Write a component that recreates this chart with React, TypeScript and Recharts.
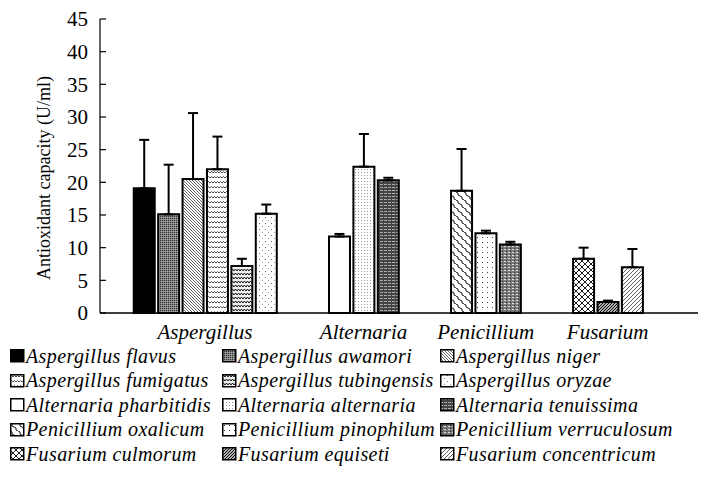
import { BarChart, Bar, XAxis, YAxis, ErrorBar, Cell, Label } from "recharts";

const FONT = "'Liberation Serif', 'Times New Roman', serif";

const genera = ["Aspergillus", "Alternaria", "Penicillium", "Fusarium"];
const genusSlots = [2.5, 9, 14, 19];

const strains = [
  "Aspergillus flavus",
  "Aspergillus awamori",
  "Aspergillus niger",
  "Aspergillus fumigatus",
  "Aspergillus tubingensis",
  "Aspergillus oryzae",
  "Alternaria pharbitidis",
  "Alternaria alternaria",
  "Alternaria tenuissima",
  "Penicillium oxalicum",
  "Penicillium pinophilum",
  "Penicillium verruculosum",
  "Fusarium culmorum",
  "Fusarium equiseti",
  "Fusarium concentricum",
];
// slot of each strain on the x axis (two empty slots between genera)
const slots = [0, 1, 2, 3, 4, 5, 8, 9, 10, 13, 14, 15, 18, 19, 20];
const means = [19.1, 15.1, 20.5, 22.0, 7.2, 15.2, 11.7, 22.4, 20.3, 18.7, 12.2, 10.5, 8.3, 1.7, 7.0];
const sds = [7.4, 7.6, 10.1, 5.0, 1.1, 1.4, 0.4, 5.0, 0.4, 6.4, 0.4, 0.4, 1.7, 0.2, 2.8];
const yTicks = [0, 5, 10, 15, 20, 25, 30, 35, 40, 45];

const rows = strains.map((name, i) => ({
  name,
  slot: slots[i],
  mean: means[i],
  err: [0, sds[i]],
}));

function Patterns() {
  return (
    <svg width={0} height={0} style={{ position: "absolute" }}>
      <defs>
        <pattern id="pat0" width="4" height="4" patternUnits="userSpaceOnUse">
          <rect width="4" height="4" fill="#000" />
        </pattern>
        <pattern id="pat1" width="2" height="2" patternUnits="userSpaceOnUse">
          <rect width="2" height="2" fill="#808080" />
          <rect width="1" height="1" fill="#333" />
          <rect x="1" y="1" width="1" height="1" fill="#aaa" />
        </pattern>
        <pattern id="pat2" width="3" height="3" patternUnits="userSpaceOnUse">
          <rect width="3" height="3" fill="#fff" />
          <path d="M0,0 L3,3 M-1,2 L1,4 M2,-1 L4,1" stroke="#222" strokeWidth="0.7" />
        </pattern>
        <pattern id="pat3" width="6" height="5" patternUnits="userSpaceOnUse">
          <rect width="6" height="5" fill="#fff" />
          <path d="M0,3 L1.5,1.5 L3,3 L4.5,1.5 L6,3" stroke="#000" strokeWidth="0.7" fill="none" />
        </pattern>
        <pattern id="pat4" width="6" height="4" patternUnits="userSpaceOnUse">
          <rect width="6" height="4" fill="#eee" />
          <path d="M0,3 L1.5,1 L3,3 L4.5,1 L6,3" stroke="#000" strokeWidth="0.9" fill="none" />
        </pattern>
        <pattern id="pat5" width="6" height="6" patternUnits="userSpaceOnUse">
          <rect width="6" height="6" fill="#fff" />
          <rect x="1" y="1" width="1" height="1" fill="#666" />
          <rect x="4" y="4" width="1" height="1" fill="#999" />
        </pattern>
        <pattern id="pat6" width="4" height="4" patternUnits="userSpaceOnUse">
          <rect width="4" height="4" fill="#fff" />
        </pattern>
        <pattern id="pat7" width="3" height="3" patternUnits="userSpaceOnUse">
          <rect width="3" height="3" fill="#fff" />
          <rect x="1" y="1" width="1" height="1" fill="#999" />
        </pattern>
        <pattern id="pat8" width="4" height="3" patternUnits="userSpaceOnUse">
          <rect width="4" height="3" fill="#444" />
          <rect x="0" y="1" width="3" height="1" fill="#aaa" />
        </pattern>
        <pattern id="pat9" width="8" height="8" patternUnits="userSpaceOnUse">
          <rect width="8" height="8" fill="#fff" />
          <path d="M0,0 L2,1 L2,3 L4,4 L6,5 L6,7 L8,8" stroke="#000" strokeWidth="0.9" fill="none" />
        </pattern>
        <pattern id="pat10" width="5" height="5" patternUnits="userSpaceOnUse">
          <rect width="5" height="5" fill="#fff" />
          <rect x="2" y="2" width="1" height="1" fill="#444" />
        </pattern>
        <pattern id="pat11" width="4" height="3" patternUnits="userSpaceOnUse">
          <rect width="4" height="3" fill="#777" />
          <rect x="0" y="0" width="2" height="1" fill="#ddd" />
          <rect x="2" y="2" width="1" height="1" fill="#333" />
        </pattern>
        <pattern id="pat12" width="6" height="6" patternUnits="userSpaceOnUse">
          <rect width="6" height="6" fill="#fff" />
          <path d="M0,3 L3,0 L6,3 L3,6 Z" stroke="#000" strokeWidth="0.9" fill="none" />
        </pattern>
        <pattern id="pat13" width="3" height="3" patternUnits="userSpaceOnUse">
          <rect width="3" height="3" fill="#fff" />
          <path d="M0,3 L3,0 M-1,1 L1,-1 M2,4 L4,2" stroke="#000" strokeWidth="1.2" />
        </pattern>
        <pattern id="pat14" width="4" height="4" patternUnits="userSpaceOnUse">
          <rect width="4" height="4" fill="#fff" />
          <path d="M0,4 L4,0 M-1,1 L1,-1 M3,5 L5,3" stroke="#333" strokeWidth="0.8" />
        </pattern>
      </defs>
    </svg>
  );
}

function YLabel(props: any) {
  const vb = props.viewBox || { x: 0, y: 0, width: 100, height: 294 };
  const x = vb.x + 44;
  const y = vb.y + vb.height / 2 + 12;
  return (
    <text
      x={x}
      y={y}
      transform={`rotate(-90 ${x} ${y})`}
      textAnchor="middle"
      dominantBaseline="central"
      fontFamily={FONT}
      fontSize={18}
      fill="#000"
    >
      Antioxidant capacity (U/ml)
    </text>
  );
}

function LegendBlock() {
  return (
    <div
      style={{
        position: "absolute",
        left: 10,
        top: 344,
        display: "grid",
        gridTemplateColumns: "212px 218px 265px",
        gridAutoRows: "24.5px",
        fontFamily: FONT,
        fontStyle: "italic",
        fontSize: 20,
        letterSpacing: 0.4,
        color: "#000",
      }}
    >
      {strains.map((s, i) => (
        <div key={s} style={{ display: "flex", alignItems: "center", whiteSpace: "nowrap" }}>
          <svg width={15} height={14} style={{ marginRight: 1, flex: "none" }}>
            <rect x={0.75} y={0.75} width={13} height={12} fill={`url(#pat${i})`} stroke="#000" strokeWidth={1.5} />
          </svg>
          <span>{s}</span>
        </div>
      ))}
    </div>
  );
}

export default function App() {
  return (
    <div style={{ position: "absolute", left: 0, top: 0, width: 715, height: 479, background: "#fff" }}>
      <Patterns />
      <BarChart
        width={715}
        height={479}
        data={rows}
        margin={{ top: 19, right: 17, bottom: 136, left: 0 }}
      >
        <XAxis
          type="number"
          dataKey="slot"
          domain={[-1.8, 22.7]}
          allowDataOverflow
          ticks={genusSlots}
          interval={0}
          tickFormatter={(v: number) => genera[genusSlots.indexOf(v)]}
          tickLine={false}
          tickMargin={5}
          height={30}
          axisLine={{ stroke: "#000", strokeWidth: 1.5 }}
          tick={{ fill: "#000", fontSize: 21, fontStyle: "italic", fontFamily: FONT }}
        />
        <YAxis
          type="number"
          domain={[0, 45]}
          ticks={yTicks}
          interval={0}
          width={100}
          tickSize={-6}
          tickMargin={18}
          axisLine={{ stroke: "#000", strokeWidth: 1.2 }}
          tickLine={{ stroke: "#000", strokeWidth: 1.2 }}
          tick={{ fill: "#000", fontSize: 21, fontFamily: FONT }}
        >
          <Label content={<YLabel />} />
        </YAxis>
        <Bar dataKey="mean" barSize={21} stroke="#000" strokeWidth={2} isAnimationActive={false}>
          {rows.map((r, i) => (
            <Cell key={r.name} fill={`url(#pat${i})`} />
          ))}
          <ErrorBar dataKey="err" width={5} stroke="#000" strokeWidth={2} direction="y" />
        </Bar>
      </BarChart>
      <LegendBlock />
    </div>
  );
}
